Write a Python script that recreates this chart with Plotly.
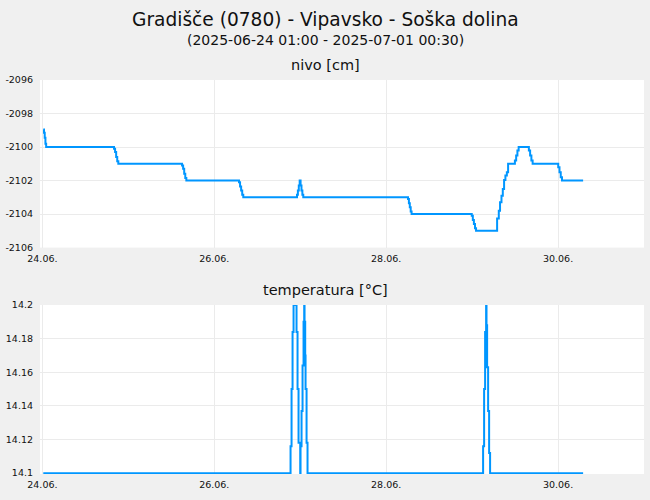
import pandas as pd
import plotly.graph_objects as go

title_text = "Gradišče (0780) - Vipavsko - Soška dolina"
subtitle_text = "(2025-06-24 01:00 - 2025-07-01 00:30)"
panel_titles = ["nivo [cm]", "temperatura [°C]"]

base_time = "2025-06-24 00:00"
x_range = ["2025-06-23 23:20", "2025-07-01 00:00"]

# hours after base_time
level_hours = [0.25, 0.45, 0.65, 0.85, 1.05,
               20.0, 20.3, 20.6, 20.9, 21.2,
               39.0, 39.3, 39.6, 39.9, 40.2,
               54.9, 55.2, 55.5, 55.8, 56.1,
               71.1, 71.35, 71.6, 71.85, 72.1, 72.35, 72.6, 72.85,
               102.1, 102.35, 102.6, 102.85, 103.1,
               119.9, 120.2, 120.5, 120.8, 121.1,
               126.98, 127.45, 127.8, 128.2, 128.57, 128.93, 129.3, 129.7, 130.05,
               131.95, 132.3, 132.65, 133.0,
               135.85, 136.2, 136.55, 136.9,
               144.05, 144.4, 144.75, 145.1,
               151.0]
level_values = [-2098.95, -2099.15, -2099.45, -2099.8, -2100.0,
                -2100.1, -2100.3, -2100.6, -2100.85, -2101.0,
                -2101.1, -2101.3, -2101.6, -2101.85, -2102.0,
                -2102.1, -2102.35, -2102.6, -2102.85, -2103.0,
                -2102.85, -2102.6, -2102.3, -2102.0, -2102.3, -2102.6, -2102.85, -2103.0,
                -2103.1, -2103.35, -2103.6, -2103.85, -2104.0,
                -2104.1, -2104.35, -2104.6, -2104.85, -2105.0,
                -2104.26, -2103.8, -2103.3, -2102.9, -2102.5, -2101.97, -2101.7, -2101.5, -2101.0,
                -2100.8, -2100.5, -2100.2, -2100.0,
                -2100.2, -2100.5, -2100.8, -2101.0,
                -2101.2, -2101.5, -2101.8, -2102.0,
                -2102.0]

temp_hours = [0.25,
              69.3, 69.58, 69.86, 70.14, 70.97, 71.25, 71.53, 72.0, 72.09, 72.37, 72.65,
              72.93, 73.11, 73.21, 73.39, 73.49, 73.77, 74.04,
              123.07, 123.35, 123.63, 123.91, 124.02, 124.19, 124.47, 124.75, 125.02,
              151.0]
temp_values = [14.1,
               14.116, 14.15, 14.184, 14.2, 14.184, 14.15, 14.118, 14.1, 14.116, 14.137, 14.164,
               14.19, 14.2, 14.19, 14.17, 14.15, 14.118, 14.1,
               14.116, 14.15, 14.184, 14.2, 14.188, 14.163, 14.137, 14.112, 14.1,
               14.1]

level_ticks = [-2106, -2104, -2102, -2100, -2098, -2096]
level_ticklabels = ["-2106", "-2104", "-2102", "-2100", "-2098", "-2096"]
temp_ticks = [14.1, 14.12, 14.14, 14.16, 14.18, 14.2]
temp_ticklabels = ["14.1", "14.12", "14.14", "14.16", "14.18", "14.2"]

t0 = pd.Timestamp(base_time)
level_t = [t0 + pd.Timedelta(hours=h) for h in level_hours]
temp_t = [t0 + pd.Timedelta(hours=h) for h in temp_hours]

line_color = "#0096ff"
grid_color = "#ebebeb"
font_family = "DejaVu Sans"
tick_font = dict(family=font_family, size=9.5, color="#111")

fig = go.Figure()
fig.add_trace(go.Scatter(x=level_t, y=level_values, mode="lines", line=dict(color=line_color, width=2, shape="hv"),
                         xaxis="x", yaxis="y", showlegend=False))
fig.add_trace(go.Scatter(x=temp_t, y=temp_values, mode="lines", line=dict(color=line_color, width=2, shape="hv"),
                         xaxis="x2", yaxis="y2", showlegend=False))

W, H = 650, 500
left, right = 40, 644
def py(px):
    return (H - px) / H

xcommon = dict(type="date", range=x_range, tickformat="%d.%m.", dtick=2 * 86400000, tick0="2025-06-24",
               showgrid=True, gridcolor=grid_color, gridwidth=1, zeroline=False, showline=False,
               ticks="", tickfont=tick_font, ticklabelstandoff=4)
ycommon = dict(showgrid=True, gridcolor=grid_color, gridwidth=1, zeroline=False, showline=False,
               ticks="", tickfont=tick_font, ticklabelstandoff=6)

fig.update_layout(
    width=W, height=H,
    paper_bgcolor="#f0f0f0", plot_bgcolor="#ffffff",
    margin=dict(l=left, r=W - right, t=0, b=0),
    xaxis=dict(domain=[0, 1], anchor="y", **xcommon),
    xaxis2=dict(domain=[0, 1], anchor="y2", matches="x", **xcommon),
    yaxis=dict(domain=[py(247), py(75.7)], anchor="x", range=[-2106, -2096],
               tickvals=level_ticks, ticktext=level_ticklabels, **ycommon),
    yaxis2=dict(domain=[py(478.5), py(305.7)], anchor="x2", range=[14.0995, 14.2],
                tickvals=temp_ticks, ticktext=temp_ticklabels, **ycommon),
    font=dict(family=font_family, color="#111"),
)

def px_x(px):
    return (px - left) / (right - left)

anns = [
    (title_text, 14, 18.6),
    (subtitle_text, 35, 14),
    (panel_titles[0], 60, 14.5),
    (panel_titles[1], 290, 14.5),
]
for text, ypx, size in anns:
    fig.add_annotation(text=text, x=px_x(325), y=py(ypx), xref="paper", yref="paper",
                       xanchor="center", yanchor="middle", showarrow=False,
                       font=dict(family=font_family, size=size, color="#111"))

fig.write_html("out.html", config={"displayModeBar": False},
               post_script="document.body.style.margin='0';document.body.style.background='#f0f0f0';")
